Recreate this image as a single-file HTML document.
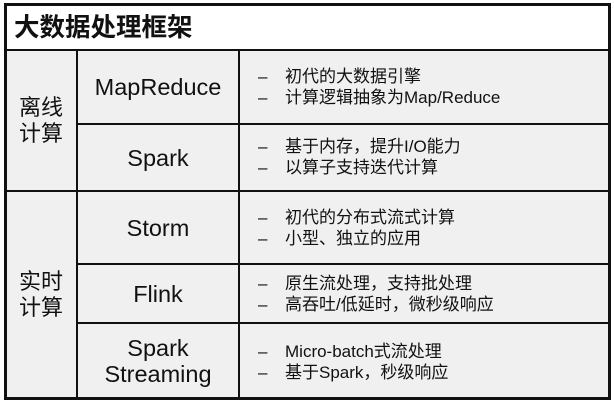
<!DOCTYPE html>
<html><head><meta charset="utf-8"><style>
body{margin:0;width:614px;height:402px;background:#fff;position:relative;overflow:hidden;font-family:"Liberation Sans","Noto Sans CJK SC",sans-serif;color:#111}
.a{position:absolute}
.h{background:#111}
.bg{background:#f0f0f0}
.c{position:absolute;display:flex;align-items:center;justify-content:center;text-align:center;font-size:23.5px;line-height:26px}
.l{font-size:22px}
.d{position:absolute;left:258px;font-size:17px;line-height:21px;white-space:nowrap}
.d span{display:inline-block;width:27px}
</style></head><body>
<div class="a bg" style="left:5px;top:50px;width:604px;height:349px"></div>
<div class="a" style="left:14px;top:12px;font-size:25.5px;font-weight:bold;line-height:32px">大数据处理框架</div>
<div class="a h" style="left:4px;top:3px;width:607px;height:3px"></div>
<div class="a h" style="left:4px;top:397px;width:607px;height:3px"></div>
<div class="a h" style="left:4px;top:3px;width:3px;height:397px"></div>
<div class="a h" style="left:608px;top:3px;width:3px;height:397px"></div>
<div class="a h" style="left:4px;top:49px;width:607px;height:2px"></div>
<div class="a h" style="left:4px;top:190px;width:607px;height:2px"></div>
<div class="a h" style="left:76px;top:123px;width:535px;height:2px"></div>
<div class="a h" style="left:76px;top:263px;width:535px;height:2px"></div>
<div class="a h" style="left:76px;top:322px;width:535px;height:2px"></div>
<div class="a h" style="left:76px;top:49px;width:2px;height:350px"></div>
<div class="a h" style="left:238px;top:49px;width:2px;height:350px"></div>
<div class="c l" style="left:6px;top:51px;width:70px;height:140px">离线<br>计算</div>
<div class="c l" style="left:6px;top:192px;width:70px;height:206px">实时<br>计算</div>
<div class="c" style="left:78px;top:51px;width:160px;height:72px">MapReduce</div>
<div class="c" style="left:78px;top:125px;width:160px;height:65px">Spark</div>
<div class="c" style="left:78px;top:192px;width:160px;height:71px">Storm</div>
<div class="c" style="left:78px;top:265px;width:160px;height:57px">Flink</div>
<div class="c" style="left:78px;top:324px;width:160px;height:73px">Spark<br>Streaming</div>
<div class="d" style="top:66px"><span>–</span>初代的大数据引擎<br><span>–</span>计算逻辑抽象为Map/Reduce</div>
<div class="d" style="top:136px"><span>–</span>基于内存，提升I/O能力<br><span>–</span>以算子支持迭代计算</div>
<div class="d" style="top:207px"><span>–</span>初代的分布式流式计算<br><span>–</span>小型、独立的应用</div>
<div class="d" style="top:273px"><span>–</span>原生流处理，支持批处理<br><span>–</span>高吞吐/低延时，微秒级响应</div>
<div class="d" style="top:341px"><span>–</span>Micro-batch式流处理<br><span>–</span>基于Spark，秒级响应</div>
</body></html>
